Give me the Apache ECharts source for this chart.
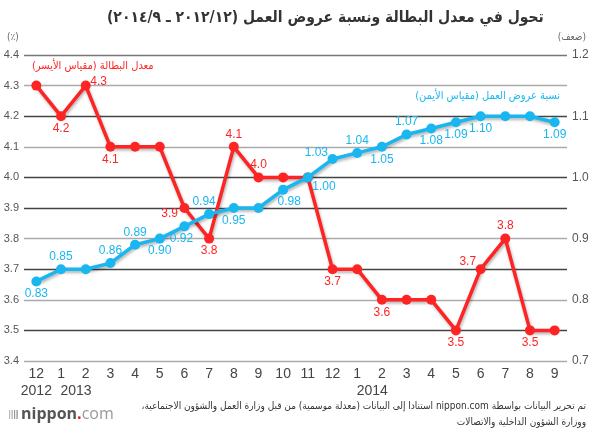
<!DOCTYPE html>
<html>
<head>
<meta charset="utf-8">
<script src="https://cdn.jsdelivr.net/npm/echarts@6/dist/echarts.min.js"></script>
<style>
html,body{margin:0;padding:0;background:#fff;}
#c{width:600px;height:433px;direction:rtl;}
</style>
</head>
<body>
<div id="c"></div>
<script>
// ---- data ----
const months = ['12','1','2','3','4','5','6','7','8','9','10','11','12','1','2','3','4','5','6','7','8','9'];
const years  = ['2012','2013','','','','','','','','','','','','2014','','','','','','','',''];
const unemployment = [4.3,4.2,4.3,4.1,4.1,4.1,3.9,3.8,4.1,4.0,4.0,4.0,3.7,3.7,3.6,3.6,3.6,3.5,3.7,3.8,3.5,3.5];
const jobRatio = [0.83,0.85,0.85,0.86,0.89,0.90,0.92,0.94,0.95,0.95,0.98,1.00,1.03,1.04,1.05,1.07,1.08,1.09,1.10,1.10,1.10,1.09];
const leftTicks = {min:3.4, max:4.4, interval:0.1};
const rightTicks = {min:0.7, max:1.2, interval:0.1};

// label placement per point ('' = no label) and pixel nudges
const unempLabelPos = ['', 'bottom', 'right', 'bottom', '', '', 'left', 'bottom', 'top', 'top', '', '', 'bottom', '', 'bottom', '', '', 'bottom', 'left', 'top', 'bottom', ''];
const unempLabelNudge = {2:[-2,-4], 6:[0,6], 18:[2,-8]};
const ratioLabelPos = ['bottom', 'top', '', 'top', 'top', 'bottom', 'bottom', 'top', 'bottom', '', 'bottom', 'right', 'left', 'top', 'bottom', 'top', 'bottom', 'bottom', 'bottom', '', '', 'bottom'];
const ratioLabelNudge = {6:[-3,0], 7:[-5,0], 10:[6,0], 11:[-2,9], 12:[2,-6]};

const RED = '#ff2424';
const BLUE = '#19b6f0';
const AR = '"DejaVu Sans Condensed", "DejaVu Sans", sans-serif';
const NUM = '"Liberation Sans", Arial, sans-serif';

function build(values, pos, nudge, color, digits){
  return values.map((v,i)=>{
    const p = pos[i];
    const item = {value:v};
    if(p){
      item.label = {show:true, position:p, color:color, fontFamily:NUM, fontSize:12,
                   formatter: ()=>v.toFixed(digits), distance:1.5, offset: nudge[i] || [0,0]};
    } else {
      item.label = {show:false};
    }
    return item;
  });
}

const chart = echarts.init(document.getElementById('c'), null, {renderer:'canvas'});
chart.setOption({
  animation:false,
  backgroundColor:'#fff',
  title:{
    text:'تحول في معدل البطالة ونسبة عروض العمل (٢٠١٢/١٢ ـ ٢٠١٤/٩)',
    left:102, top:5,
    textStyle:{fontFamily:AR, fontSize:15.5, fontWeight:'bold', color:'#333'}
  },
  grid:{left:24, right:33, top:55, bottom:72},
  xAxis:{
    type:'category', data:months, boundaryGap:true,
    axisLine:{show:false}, axisTick:{show:false},
    axisLabel:{
      interval:0, color:'#444', fontFamily:NUM, fontSize:14, margin:5,
      formatter:(v,i)=> years[i] ? '{m|' + v + '}\n{' + (i===0 ? 'y' : 'ys') + '|' + years[i] + '}' : '{m|' + v + '}',
      rich:{
        m:{fontFamily:NUM, fontSize:14, color:'#444', lineHeight:17},
        y:{fontFamily:NUM, fontSize:14, color:'#444', lineHeight:17},
        ys:{fontFamily:NUM, fontSize:14, color:'#444', lineHeight:17, padding:[0,0,0,30]}
      }
    }
  },
  yAxis:[
    {type:'value', min:leftTicks.min, max:leftTicks.max, interval:leftTicks.interval, position:'left',
     axisLine:{show:false}, axisTick:{show:false},
     axisLabel:{color:'#555', fontFamily:NUM, fontSize:11, margin:5, formatter:v=>v.toFixed(1)},
     splitLine:{show:true, lineStyle:{width:1.3,
       color:['#aaa','#444','#aaa','#444','#aaa','#444','#444','#aaa','#444','#aaa','#777']}}
    },
    {type:'value', min:rightTicks.min, max:rightTicks.max, interval:rightTicks.interval, position:'right',
     axisLine:{show:false}, axisTick:{show:false}, splitLine:{show:false},
     axisLabel:{color:'#555', fontFamily:NUM, fontSize:12, margin:5, formatter:v=>v.toFixed(1)}
    }
  ],
  series:[
    {type:'line', name:'unemployment', yAxisIndex:0,
     data:build(unemployment, unempLabelPos, unempLabelNudge, RED, 1),
     symbol:'circle', symbolSize:10, z:2,
     lineStyle:{color:RED, width:3.5, shadowColor:'rgba(0,0,0,0.3)', shadowBlur:3, shadowOffsetX:1, shadowOffsetY:2},
     itemStyle:{color:RED}
    },
    {type:'line', name:'ratio', yAxisIndex:1,
     data:build(jobRatio, ratioLabelPos, ratioLabelNudge, BLUE, 2),
     symbol:'circle', symbolSize:10, z:3,
     lineStyle:{color:BLUE, width:3.5, shadowColor:'rgba(0,0,0,0.3)', shadowBlur:3, shadowOffsetX:1, shadowOffsetY:2},
     itemStyle:{color:BLUE}
    }
  ],
  graphic:[
    {type:'text', left:7, top:32, style:{text:'(٪)', fill:'#666', font:'10px '+AR}},
    {type:'text', right:14, top:32, style:{text:'(ضعف)', fill:'#666', font:'10px '+AR}},
    {type:'text', left:32, top:61, style:{text:'معدل البطالة (مقياس الأيسر)', fill:RED, font:'11px '+AR}},
    {type:'text', right:40, top:91, style:{text:'نسبة عروض العمل (مقياس الأيمن)', fill:BLUE, font:'11px '+AR}},
    {type:'text', right:14, top:401, style:{text:'تم تحرير البيانات بواسطة nippon.com استنادا إلى البيانات (معدلة موسمية) من قبل وزارة العمل والشؤون الاجتماعية،', fill:'#333', font:'10px '+AR}},
    {type:'text', right:14, top:417, style:{text:'ووزارة الشؤون الداخلية والاتصالات', fill:'#333', font:'10px '+AR}},
    {type:'group', left:9, top:406, children:[
      {type:'rect', shape:{x:0,y:4,width:1.2,height:9}, style:{fill:'#bbb'}},
      {type:'rect', shape:{x:2.5,y:4,width:1.2,height:9}, style:{fill:'#aaa'}},
      {type:'rect', shape:{x:5,y:4,width:1.2,height:9}, style:{fill:'#999'}},
      {type:'rect', shape:{x:7.5,y:4,width:1.2,height:9}, style:{fill:'#888'}},
      {type:'text', x:12, y:0, style:{text:'{a|nippon}{b|.}{c|com}',
        rich:{a:{fontFamily:'"Open Sans", sans-serif', fontWeight:'bold', fontSize:16, fill:'#555'},
              b:{fontFamily:'"Open Sans", sans-serif', fontWeight:'bold', fontSize:16, fill:'#e0202a'},
              c:{fontFamily:'"Open Sans", sans-serif', fontSize:16, fill:'#999'}}}}
    ]}
  ]
});
</script>
</body>
</html>
